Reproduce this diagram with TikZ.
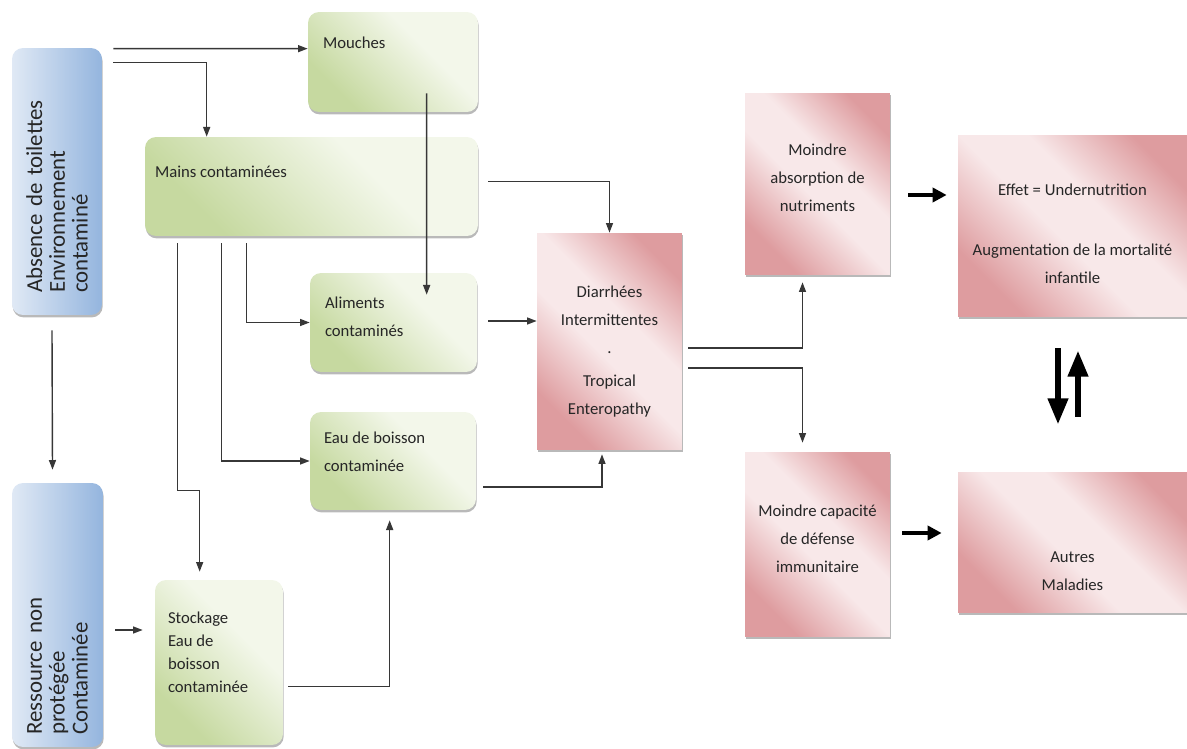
\documentclass[tikz,border=0pt]{standalone}
\usepackage{fontspec}
\setmainfont{Carlito}
\usetikzlibrary{shadows,arrows.meta,calc}
\definecolor{bleuclair}{RGB}{224,233,245}
\definecolor{bleufonce}{RGB}{148,181,222}
\definecolor{vertclair}{RGB}{243,247,234}
\definecolor{vertfonce}{RGB}{198,217,160}
\definecolor{roseclair}{RGB}{248,232,233}
\definecolor{rosefonce}{RGB}{222,156,159}
\definecolor{fleche}{RGB}{55,55,55}
\pgfdeclarehorizontalshading{vertdiag}{100bp}{color(0bp)=(vertfonce); color(28bp)=(vertfonce); color(62bp)=(vertclair); color(100bp)=(vertclair)}
\pgfdeclarehorizontalshading{rosediag}{100bp}{color(0bp)=(rosefonce); color(26bp)=(rosefonce); color(46bp)=(roseclair); color(58bp)=(roseclair); color(76bp)=(rosefonce); color(100bp)=(rosefonce)}

\begin{document}
\begin{tikzpicture}[x=0.02cm,y=-0.02cm,
    every node/.style={font=\fontsize{9.5}{16}\selectfont,text=black!85},
    ombre/.style={drop shadow={shadow xshift=0.4pt,shadow yshift=-1.4pt,opacity=0.55}},
    boitebleu/.style={ombre,rounded corners=0.22cm,left color=bleuclair,right color=bleufonce},
    boitevert/.style={ombre,rounded corners=0.22cm,shade,shading=vertdiag,shading angle=45},
    boiterose/.style={ombre,shade,shading=rosediag,shading angle=45},
    txtbleu/.style={rotate=90,align=left,inner sep=0pt,font=\fontsize{13}{13}\selectfont},
    txtvert/.style={anchor=north west,align=left,inner sep=0pt},
    txtrose/.style={align=center},
    fl/.style={draw=fleche,line width=0.8pt,-{Triangle[length=5.5pt,width=4pt]}},
    flgras/.style={draw=black,line width=2.5pt,-{Triangle[length=8pt,width=8pt]}},
    flgrasv/.style={draw=black,line width=3.5pt,-{Triangle[length=15pt,width=11pt]}}]
  \useasboundingbox (0,0) rectangle (1187,749);
  % sources
  \node[boitebleu,minimum width=1.8cm,minimum height=5.34cm,
    label={[txtbleu,text width=4.46cm]center:Absence de toilettes\\Environnement\\contaminé}] (absence) at (57,181.5) {};
  \node[boitebleu,minimum width=1.82cm,minimum height=5.28cm,
    label={[txtbleu,text width=4.8cm]center:Ressource non\\protégée\\Contaminée}] (ressource) at (57.5,615) {};
  % voies de contamination
  \node[boitevert,minimum width=3.4cm,minimum height=2cm,
    label={[txtvert,xshift=0.3cm,yshift=-0.5cm]north west:Mouches}] (mouches) at (393,62) {};
  \node[boitevert,minimum width=6.66cm,minimum height=1.98cm,
    label={[txtvert,xshift=0.2cm,yshift=-0.58cm]north west:Mains contaminées}] (mains) at (311.5,186.5) {};
  \node[boitevert,minimum width=3.34cm,minimum height=1.98cm,
    label={[txtvert,xshift=0.3cm,yshift=-0.48cm]north west:Aliments\\contaminés}] (aliments) at (393.5,322.5) {};
  \node[boitevert,minimum width=3.32cm,minimum height=1.96cm,
    label={[txtvert,xshift=0.28cm,yshift=-0.4cm]north west:Eau de boisson\\contaminée}] (eau) at (393,461) {};
  \node[boitevert,minimum width=2.56cm,minimum height=3.3cm,
    label={[txtvert,xshift=0.26cm,yshift=-0.64cm,font=\fontsize{9.5}{13}\selectfont]north west:Stockage\\Eau de\\boisson\\contaminée}] (stockage) at (219,662.5) {};
  % effets
  \node[boiterose,minimum width=2.9cm,minimum height=4.34cm,
    label={[txtrose,yshift=-0.2cm]center:Diarrhées\\Intermittentes\\.\\[3pt]Tropical\\Enteropathy}] (diarrhees) at (609.5,341.5) {};
  \node[boiterose,minimum width=2.9cm,minimum height=3.64cm,
    label={[txtrose,yshift=0.12cm]center:Moindre\\absorption de\\nutriments}] (absorption) at (817.5,184) {};
  \node[boiterose,minimum width=2.9cm,minimum height=3.7cm,
    label={[txtrose,yshift=0.12cm]center:Moindre capacité\\de défense\\immunitaire}] (capacite) at (817.5,544.5) {};
  \node[boiterose,minimum width=4.58cm,minimum height=3.64cm,
    label={[txtrose,yshift=-0.15cm]center:Effet = Undernutrition\\[18pt]Augmentation de la mortalité\\infantile}] (effet) at (1072.5,226) {};
  \node[boiterose,minimum width=4.58cm,minimum height=2.82cm,
    label={[txtrose,yshift=-0.58cm]center:Autres\\Maladies}] (autres) at (1072.5,542.5) {};
  % fleches
  \draw[fl] ($(absence.north east)+(11,1)$) -- ($(mouches.north west)+(0,37)$);
  \draw[fl] ($(absence.north east)+(11,15)$) -| ($(mains.north west)+(62,0)$);
  \draw[fl] (absence.south) ++(-5,15) -- ($(ressource.north)+(-5,-13)$);
  \draw[fl] ($(mouches.south west)+(119,-19)$) -- ($(aliments.north west)+(117,22)$);
  \draw[fl] ($(mains.east)+(10,-5)$) -| (diarrhees.north);
  \draw[fl] ($(mains.south west)+(102,7)$) |- (aliments.west);
  \draw[fl] ($(mains.south west)+(77,7)$) |- (eau.west);
  \draw[fl] ($(mains.south west)+(33,7)$) -- ++(0,247) -| ($(stockage.north west)+(45,-8)$);
  \draw[fl,shorten >=0.24cm] ($(ressource.east)+(12,15)$) -- ($(stockage.west)+(0,-32.5)$);
  \draw[fl] ($(stockage.east)+(5,24)$) -| ($(eau.south west)+(80,10)$);
  \draw[fl] ($(aliments.east)+(11,-1.5)$) -- ($(diarrhees.west)+(0,-20.5)$);
  \draw[fl] ($(eau.east)+(7,26)$) -| ($(diarrhees.south)+(-7.5,4)$);
  \draw[fl] ($(diarrhees.east)+(6,6.5)$) -| ($(absorption.south)+(-15,7)$);
  \draw[fl] ($(diarrhees.east)+(6,26.5)$) -| ($(capacite.north)+(-15,-9)$);
  \draw[flgras] ($(absorption.east)+(18,11)$) -- ($(effet.west)+(-11,-31)$);
  \draw[flgras] ($(capacite.east)+(12,-11.5)$) -- ($(autres.west)+(-16,-9.5)$);
  \draw[flgrasv] ($(effet.south)+(-14.5,31)$) -- ($(autres.north)+(-14.5,-47)$);
  \draw[flgrasv] ($(autres.north)+(5.5,-55)$) -- ($(effet.south)+(5.5,33)$);
\end{tikzpicture}
\end{document}
